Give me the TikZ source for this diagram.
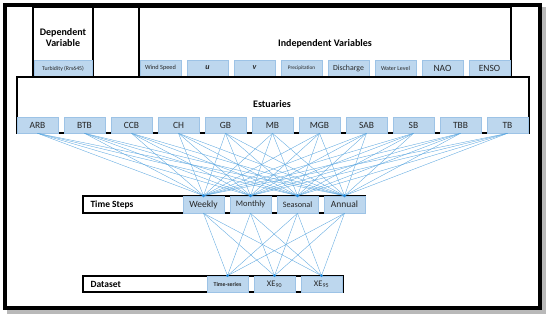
\documentclass[tikz,border=0pt]{standalone}
\usepackage{fontspec}
\setmainfont{Carlito}
\definecolor{cellfill}{HTML}{BDD7EE}
\definecolor{celldraw}{HTML}{9DC3E6}
\definecolor{linkcol}{HTML}{5BA7E0}
\definecolor{dotcol}{HTML}{1F88DA}
\begin{document}
\begin{tikzpicture}[x=1pt,y=-1pt,
  cell/.style={draw=celldraw,fill=cellfill,line width=0.6pt,inner sep=0pt,
    minimum width=41pt,minimum height=#1,anchor=center,text=black!85},
  cell/.default=16pt,
  frame/.style={draw=black,line width=1.1pt},
  link/.style={draw=linkcol,line width=0.35pt},
  dotmark/.style={fill=dotcol,draw=none},
  fs/.style={font=\fontsize{#1}{#1}\selectfont},
  fb/.style={font=\fontsize{#1}{#1}\selectfont\bfseries}
]
\useasboundingbox (0,0) rectangle (550,319);
% outer frame with shadow
\draw[gray!55,line width=4pt] (9,9) rectangle (544,312);
\draw[black,line width=4pt,fill=white] (5,5) rectangle (540,308);

% top boxes
\draw[frame] (33,7) rectangle (93,77);
\draw[frame] (93,7) rectangle (139,77);
\draw[frame] (139,7) rectangle (511,77);
\node[fb=10,align=center] (deplab) at (63,38) {Dependent\\[1pt]Variable};
\node[fb=10] (indlab) at (325,44) {Independent Variables};
\node[cell=17pt,minimum width=58pt,fs=5.8] (dv) at (63,68.5) {Turbidity (Rrs645)};
\node[cell,fs=6.3] (i1) at (160.5,68) {Wind Speed};
\node[cell,fs=8,font=\fontsize{8}{8}\selectfont\bfseries\itshape] (i2) at (207.5,68) {u};
\node[cell,fs=8,font=\fontsize{8}{8}\selectfont\bfseries\itshape] (i3) at (254.5,68) {v};
\node[cell,fs=5.3] (i4) at (301.5,68) {Precipitation};
\node[cell,fs=7.8] (i5) at (348.5,68) {Discharge};
\node[cell,fs=6] (i6) at (395.5,68) {Water Level};
\node[cell,fs=9.5] (i7) at (442.5,68) {NAO};
\node[cell,fs=9.5] (i8) at (489.5,68) {ENSO};

% estuaries
\draw[frame] (17,77) rectangle (529,133);
\node[fb=10] (estlab) at (272,104) {Estuaries};
\foreach \n [count=\i] in {ARB,BTB,CCB,CH,GB,MB,MGB,SAB,SB,TBB,TB}{
  \node[cell,fs=9.5] (e\i) at ({37.5+47*(\i-1)},125) {\n};
}

% time steps
\draw[frame] (83,196) rectangle (365,213);
\node[fb=9.5,anchor=west] (tslab) at (87,204.5) {Time Steps};
\node[cell=17pt,fs=9.5] (t1) at (203.5,204.5) {Weekly};
\node[cell=17pt,fs=8.5] (t2) at (250.5,204.5) {Monthly};
\node[cell=17pt,fs=8.2] (t3) at (297.5,204.5) {Seasonal};
\node[cell=17pt,fs=9.5] (t4) at (344.5,204.5) {Annual};

% dataset
\draw[frame] (83,276) rectangle (343,292);
\node[fb=9.5,anchor=west] (dslab) at (87,284) {Dataset};
\node[cell,fb=5.8] (d1) at (227.5,284) {Time-series};
\node[cell,fs=8.5] (d2) at (274.5,284) {XE\textsubscript{90}};
\node[cell,fs=8.5] (d3) at (321.5,284) {XE\textsubscript{95}};

% links
\foreach \i in {1,...,11}{
  \foreach \j in {1,...,4}{
    \draw[link] (e\i.south) -- (t\j.north);
  }
}
\foreach \j in {1,...,4}{
  \foreach \k in {1,2,3}{
    \draw[link] (t\j.south) -- (d\k.north);
  }
}
\foreach \j in {1,...,4}{\fill[dotmark] (t\j.north) circle (1.7pt);}
\foreach \k in {1,2,3}{\fill[dotmark] (d\k.north) circle (1.5pt);}
\end{tikzpicture}
\end{document}
